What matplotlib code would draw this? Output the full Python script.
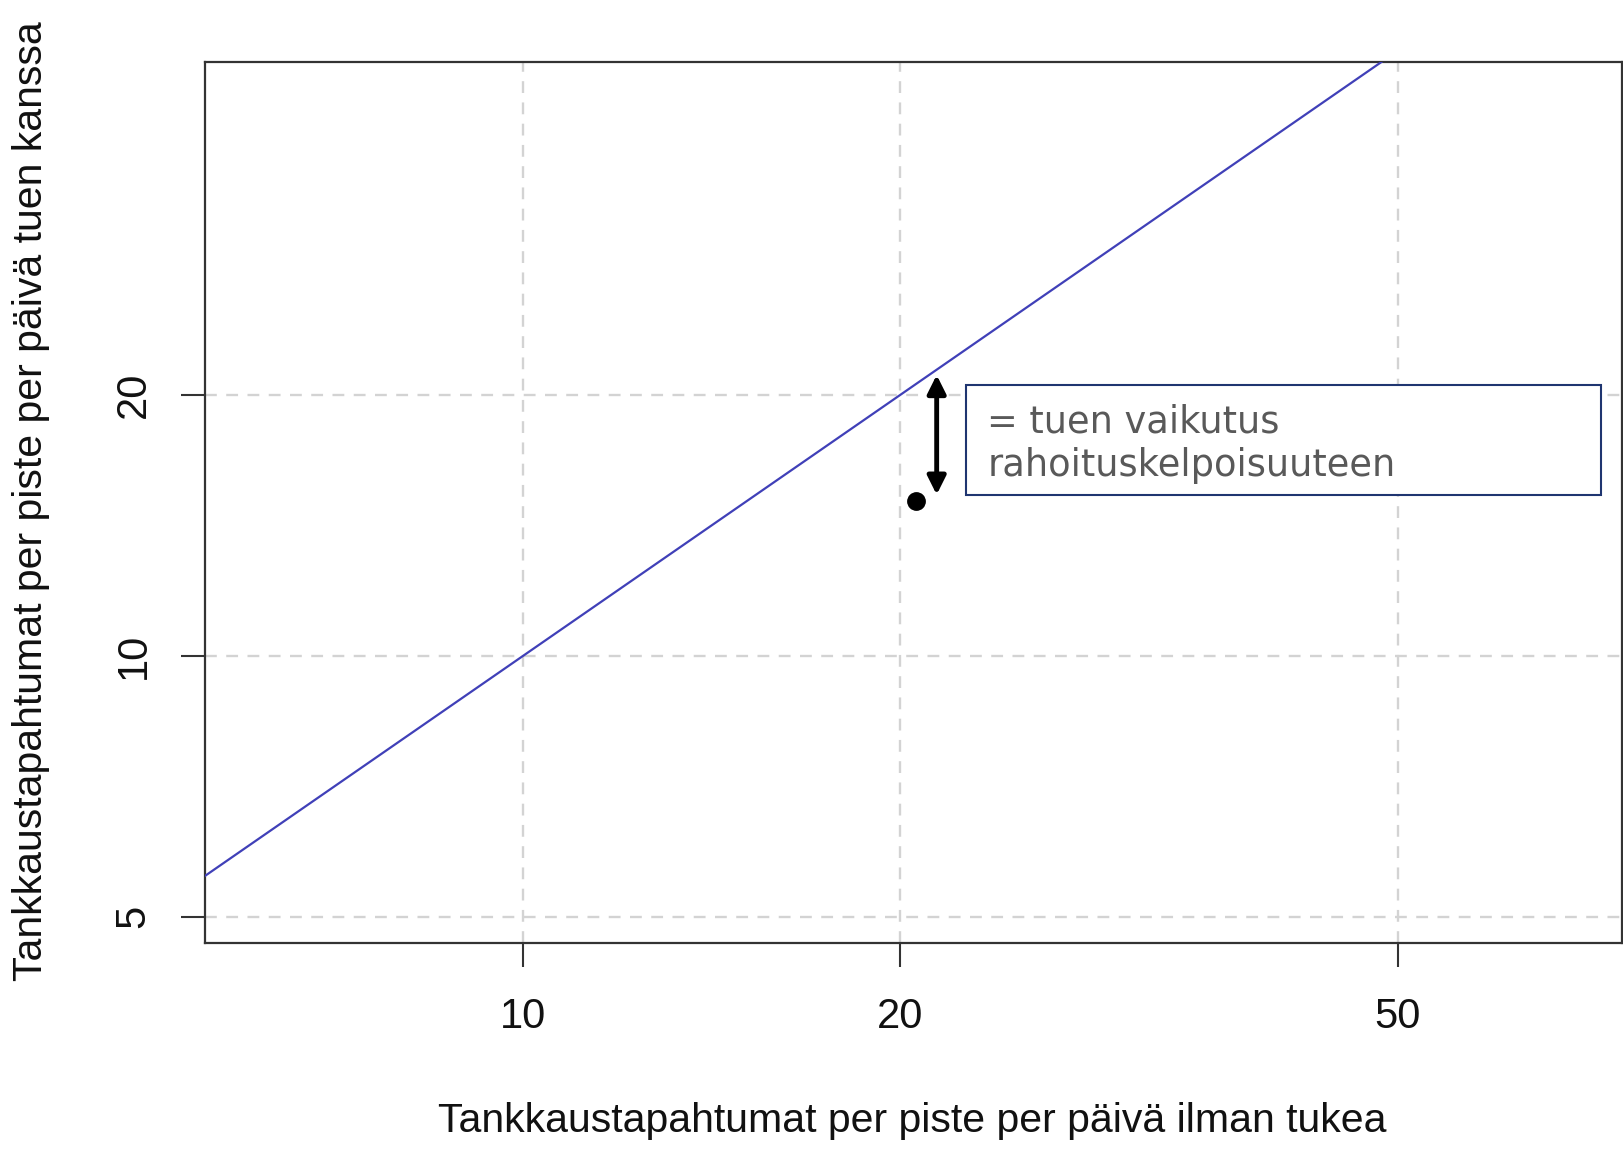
import matplotlib
matplotlib.use("Agg")
import matplotlib.pyplot as plt
import numpy as np

# Data
x_ticks = [10, 20, 50]
y_ticks = [5, 10, 20]
x_limits = [5.57, 75.5]
y_limits = [4.66, 48.5]
line_x = [5.57, 48.5]          # identity line y = x
line_y = [5.57, 48.5]
point_x = [20.6]
point_y = [15.1]
arrow_x = 21.4
arrow_y_top = 21.1
arrow_y_bottom = 15.35
box_text = "= tuen vaikutus\nrahoituskelpoisuuteen"
xlabel = "Tankkaustapahtumat per piste per päivä ilman tukea"
ylabel = "Tankkaustapahtumat per piste per päivä tuen kanssa"

W, H = 1624, 1153
fig = plt.figure(figsize=(W / 100, H / 100), dpi=100)
ax = fig.add_axes([205 / W, 1 - 943 / H, (1622 - 205) / W, (943 - 62) / H])

ax.set_xscale("log")
ax.set_yscale("log")
ax.set_xlim(*x_limits)
ax.set_ylim(*y_limits)

tickfont = ["Liberation Sans", "DejaVu Sans"]

ax.set_xticks(x_ticks)
ax.set_xticklabels([str(v) for v in x_ticks], fontfamily=tickfont, fontsize=30)
ax.set_yticks(y_ticks)
ax.set_yticklabels([str(v) for v in y_ticks], fontfamily=tickfont, fontsize=30,
                   rotation=90, va="center")
ax.minorticks_off()
ax.tick_params(axis="both", which="major", length=17, width=1.5, color="#333333",
               direction="out", labelcolor="#111111")
ax.tick_params(axis="x", pad=22)
ax.tick_params(axis="y", pad=20)

for s in ax.spines.values():
    s.set_color("#333333")
    s.set_linewidth(1.6)

ax.grid(True, which="major", color="#d3d3d3", linestyle=(0, (5, 4)), linewidth=1.7)
ax.set_axisbelow(True)

ax.plot(line_x, line_y, color="#4040b8", linewidth=1.6, zorder=3)
ax.plot(point_x, point_y, "o", color="black", markersize=12.5, zorder=4)

ax.annotate("", xy=(arrow_x, arrow_y_top), xytext=(arrow_x, arrow_y_bottom),
            arrowprops=dict(arrowstyle="<|-|>,head_length=1.1,head_width=0.55",
                            color="black", lw=3.5, shrinkA=0, shrinkB=0),
            zorder=5)

# Text box
bx0, bx1 = (966 - 205) / (1622 - 205), (1601 - 205) / (1622 - 205)
by0, by1 = (943 - 495) / (943 - 62), (943 - 385) / (943 - 62)
rect = plt.Rectangle((bx0, by0), bx1 - bx0, by1 - by0, transform=ax.transAxes,
                     facecolor="white", edgecolor="#1f3570", linewidth=1.5, zorder=6)
ax.add_patch(rect)
ax.text(bx0 + 0.015, (by0 + by1) / 2 - 0.004, box_text, transform=ax.transAxes,
        fontsize=26.5, color="#595959", family="DejaVu Sans", va="center", ha="left",
        linespacing=1.22, zorder=7)

fig.text(912 / W, 1 - 1121 / H, xlabel, ha="center", va="center",
         fontsize=29.5, family=tickfont, color="#111111")
fig.text(31 / W, 1 - 501 / H, ylabel, ha="center", va="center", rotation=90,
         fontsize=29.5, family=tickfont, color="#111111")

fig.savefig("out.png", dpi=100)
